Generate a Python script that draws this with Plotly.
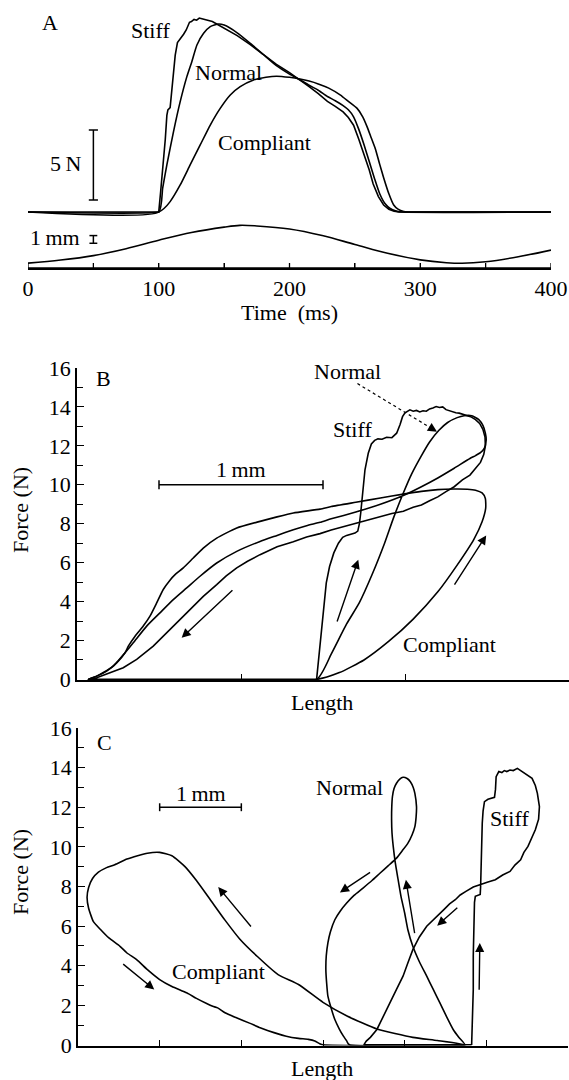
import plotly.graph_objects as go

W, H = 569, 1080
FONT = "Liberation Serif, Times New Roman, serif"

# ---------------- Panel A: force and length against time ----------------
t_stiff = [0, 100, 101.5, 103, 104, 105, 106.2, 107, 108.7, 110, 111.3, 112.6, 114.3, 115.5,
           117.2, 119, 121, 122.5, 123.5, 125, 127, 129, 131, 133, 135, 137, 139, 141, 144,
           150, 160, 170, 180, 190, 200, 208, 215, 222, 229, 235, 241, 245, 249, 253, 257,
           261, 264, 268, 272, 276, 280, 284, 400]
f_stiff = [0, 0, 1.5, 2.9, 4.1, 5.2, 6.9, 7.3, 7.45, 8.8, 10.0, 11.2, 12.1, 12.25,
           12.4, 12.7, 13.0, 13.35, 13.55, 13.6, 13.75, 13.7, 13.85, 13.8, 13.75, 13.72, 13.65, 13.6, 13.45,
           13.15, 12.6, 11.95, 11.25, 10.55, 9.95, 9.45, 8.95, 8.45, 7.9, 7.55, 7.15, 6.75, 6.2, 5.2, 4.1,
           3.0, 2.0, 1.1, 0.5, 0.2, 0.05, 0, 0]

t_normal = [0, 100, 103, 106.2, 111.3, 116.4, 121.5, 125.3, 129.2, 134.3, 139.4, 145.7, 150, 160,
            170, 180, 190, 200, 208, 215, 222, 229, 235, 241, 245, 249, 253, 257, 261, 265, 269,
            273, 277, 281, 286, 400]
f_normal = [0, 0, 1.7, 3.36, 5.74, 7.88, 9.67, 10.74, 11.93, 12.76, 13.24, 13.43, 13.35, 12.8,
            12.05, 11.25, 10.45, 9.85, 9.45, 9.05, 8.7, 8.25, 7.95, 7.6, 7.3, 6.8, 5.9, 4.8, 3.6, 2.4, 1.3,
            0.6, 0.25, 0.08, 0, 0]

t_compliant = [0, 100, 104, 108.7, 116.4, 124, 131.7, 139.4, 147, 154.7, 162.3, 172.5, 182, 190,
               200, 208, 215, 222, 230, 239, 245, 251.7, 256, 259.3, 262.5, 265.7, 269, 272, 276,
               279.7, 283, 287.4, 291, 400]
f_compliant = [0, 0, 0.25, 0.74, 1.93, 3.36, 4.79, 6.21, 7.4, 8.36, 8.95, 9.43, 9.62, 9.7,
               9.62, 9.5, 9.35, 9.15, 8.85, 8.35, 7.9, 7.4, 6.8, 6.1, 5.3, 4.5, 3.4, 2.45, 1.3,
               0.5, 0.2, 0.03, 0, 0]

t_length = [0, 25, 50, 75, 100, 125, 150, 162, 175, 200, 225, 250, 275, 300, 320, 332, 350, 375, 400]
length_mm = [0.02, 0.42, 1.0, 1.9, 3.0, 4.0, 4.7, 4.93, 4.85, 4.45, 3.6, 2.45, 1.3, 0.45, 0.08, 0.0,
             0.2, 0.85, 1.72]

time_ticks = [0, 50, 100, 150, 200, 250, 300, 350, 400]
time_ticktext = ["0", "", "100", "", "200", "", "300", "", "400"]

# ---------------- Panel B: work loops (force vs length) ----------------
b_stiff_len = [1.461, 1.482, 1.50, 1.52, 1.54, 1.566, 1.594, 1.62, 1.644, 1.67, 1.695, 1.712, 1.722,
               1.730, 1.742, 1.756, 1.776, 1.795, 1.815, 1.835, 1.86, 1.888, 1.92, 1.949, 1.97, 1.985,
               2.0, 2.03, 2.05, 2.07, 2.09, 2.11, 2.13, 2.15, 2.17, 2.19, 2.21, 2.23, 2.25, 2.27, 2.29,
               2.31, 2.33, 2.35, 2.37, 2.40, 2.43, 2.455, 2.475, 2.488, 2.49, 2.48, 2.46, 2.43, 2.396,
               2.35, 2.30, 2.25, 2.2, 2.15, 2.1, 2.05, 1.99, 1.92, 1.85, 1.78, 1.70, 1.62, 1.55, 1.482,
               1.40, 1.319, 1.22, 1.116, 1.04, 0.974, 0.91, 0.852, 0.770, 0.669, 0.567, 0.465, 0.364,
               0.282, 0.201, 0.120, 0.069, 1.461]
b_stiff_force = [0, 1.71, 3.2, 4.96, 5.8, 6.5, 7.0, 7.3, 7.4, 7.48, 7.52, 7.62, 8.0,
                 8.55, 9.74, 10.77, 11.62, 12.1, 12.28, 12.36, 12.34, 12.44, 12.42, 12.65, 13.1, 13.5,
                 13.7, 13.85, 13.78, 13.82, 13.74, 13.8, 13.78, 13.9, 13.95, 14.02, 13.97, 14.0, 13.86, 13.8, 13.72,
                 13.7, 13.68, 13.62, 13.6, 13.5, 13.35, 13.15, 12.85, 12.45, 12.0, 11.55, 11.15, 10.85, 10.5,
                 10.25, 9.9, 9.65, 9.38, 9.18, 8.96, 8.85, 8.64, 8.52, 8.36, 8.24, 8.03, 7.87, 7.68, 7.49,
                 7.32, 7.07, 6.82, 6.41, 6.07, 5.73, 5.32, 4.87, 4.27, 3.42, 2.56, 1.71, 1.03,
                 0.60, 0.34, 0.09, 0, 0]

b_normal_len = [1.461, 1.55, 1.644, 1.721, 1.80, 1.876, 1.93, 1.986, 2.04, 2.097, 2.15, 2.207, 2.26,
                2.318, 2.36, 2.407, 2.45, 2.475, 2.49, 2.495, 2.485, 2.46, 2.43, 2.396, 2.30, 2.2, 2.1,
                1.99, 1.85, 1.70, 1.55, 1.482, 1.40, 1.319, 1.22, 1.116, 0.974, 0.852, 0.750, 0.669,
                0.587, 0.506, 0.425, 0.343, 0.293, 0.25, 0.221, 0.18, 0.140, 0.10, 0.069, 1.461]
b_normal_force = [0, 1.3, 2.85, 3.93, 5.4, 7.01, 8.3, 9.5, 10.55, 11.45, 12.2, 12.8, 13.2,
                  13.45, 13.55, 13.55, 13.35, 13.05, 12.65, 12.3, 11.9, 11.65, 11.5, 11.35, 10.85, 10.35, 9.9,
                  9.45, 9.0, 8.6, 8.25, 8.07, 7.9, 7.69, 7.4, 7.09, 6.58, 5.98, 5.3, 4.70,
                  4.10, 3.42, 2.74, 1.88, 1.37, 0.95, 0.68, 0.45, 0.26, 0.1, 0, 0]

b_compliant_len = [1.461, 1.6, 1.75, 1.9, 2.05, 2.2, 2.32, 2.42, 2.47, 2.492, 2.49, 2.47, 2.43, 2.38,
                   2.3, 2.2, 2.1, 1.99, 1.85, 1.70, 1.55, 1.482, 1.319, 1.22, 1.116, 0.974, 0.852,
                   0.770, 0.709, 0.648, 0.598, 0.567, 0.526, 0.486, 0.445, 0.404, 0.354, 0.313, 0.293,
                   0.242, 0.181, 0.120, 0.069, 1.461]
b_compliant_force = [0, 0.35, 1.0, 1.95, 3.1, 4.5, 5.9, 7.2, 8.1, 8.8, 9.3, 9.58, 9.72, 9.77,
                     9.78, 9.75, 9.66, 9.52, 9.32, 9.1, 8.88, 8.75, 8.55, 8.35, 8.12, 7.78, 7.26,
                     6.75, 6.24, 5.73, 5.38, 5.1, 4.62, 3.93, 3.25, 2.74, 2.22, 1.71, 1.37,
                     0.85, 0.43, 0.17, 0, 0]

# ---------------- Panel C: loops on a shifted length scale ----------------
c_compliant_len = [4.75, 4.4, 4.1, 3.66, 3.3, 3.0, 2.7, 2.45, 2.2, 1.98, 1.8, 1.62, 1.45, 1.31, 1.15,
                   1.0, 0.85, 0.73, 0.6, 0.45, 0.35, 0.25, 0.178, 0.13, 0.111, 0.13, 0.187, 0.27,
                   0.378, 0.514, 0.6, 0.718, 0.85, 1.0, 1.15, 1.33, 1.45, 1.575, 1.65, 1.71, 1.80,
                   1.94, 2.1, 2.23, 2.4, 2.55, 2.7, 2.82, 2.9, 2.96, 3.0, 4.75]
c_compliant_force = [0, 0.22, 0.38, 0.8, 1.45, 2.15, 3.05, 3.55, 4.45, 5.35, 6.3, 7.33, 8.3, 9.0, 9.55,
                     9.72, 9.68, 9.55, 9.38, 9.1, 8.95, 8.72, 8.4, 7.95, 7.45, 6.9, 6.24, 5.85,
                     5.4, 4.98, 4.64, 4.31, 3.8, 3.3, 2.95, 2.63, 2.35, 2.09, 1.95, 1.87, 1.62,
                     1.37, 1.1, 0.87, 0.62, 0.44, 0.33, 0.28, 0.2, 0.06, 0, 0]

c_normal_len = [4.737, 4.66, 4.594, 4.51, 4.43, 4.35, 4.27, 4.18, 4.10, 4.04, 4.0, 3.955, 3.92, 3.885,
                3.86, 3.845, 3.84, 3.842, 3.85, 3.87, 3.90, 3.94, 3.98, 4.03, 4.07, 4.105, 4.125,
                4.145, 4.14, 4.125, 4.09, 4.04, 3.97, 3.90, 3.80, 3.70, 3.60, 3.49, 3.38, 3.29, 3.21,
                3.145, 3.09, 3.06, 3.04, 3.035, 3.045, 3.06, 3.10, 3.145, 3.20, 3.25, 3.29, 3.31,
                3.33, 4.737]
c_normal_force = [0.0, 0.4, 0.78, 1.45, 2.13, 2.8, 3.47, 4.2, 4.98, 5.8, 6.66, 7.5, 8.34, 9.2,
                  10.02, 10.7, 11.36, 12.0, 12.53, 12.95, 13.21, 13.42, 13.51, 13.45, 13.29, 13.0, 12.7,
                  12.03, 11.5, 11.02, 10.6, 10.19, 9.8, 9.43, 9.05, 8.68, 8.3, 7.92, 7.55, 7.16, 6.75,
                  6.32, 5.7, 5.15, 4.5, 3.80, 3.1, 2.46, 1.85, 1.28, 0.8, 0.44, 0.2, 0.05,
                  0, 0]

c_stiff_len = [4.82, 4.83, 4.84, 4.84, 4.845, 4.855, 4.865, 4.90, 4.925, 4.93, 4.935, 4.94, 4.945,
               4.95, 4.96, 4.977, 5.02, 5.066, 5.10, 5.112, 5.12, 5.153, 5.19, 5.22, 5.25, 5.29, 5.33,
               5.38, 5.42, 5.47, 5.52, 5.56, 5.60, 5.625, 5.65, 5.64, 5.6, 5.55, 5.51, 5.46, 5.42,
               5.35, 5.29, 5.2, 5.11, 5.02, 4.93, 4.84, 4.75, 4.68, 4.62, 4.55, 4.48, 4.38, 4.27,
               4.18, 4.10, 4.04, 3.98, 3.90, 3.82, 3.74, 3.66, 3.58, 3.53, 3.5, 4.82]
c_stiff_force = [0, 1.2, 2.8, 4.5, 6.16, 7.2, 7.5, 7.55, 7.6, 8.0, 9.0, 9.51, 10.4,
                 11.19, 11.8, 12.28, 12.4, 12.45, 12.5, 12.9, 13.54, 13.8, 13.75, 13.85, 13.8, 13.88, 13.85,
                 13.96, 13.85, 13.71, 13.6, 13.46, 13.1, 12.7, 12.03, 11.4, 10.86, 10.4, 10.02, 9.72, 9.35,
                 9.08, 8.76, 8.58, 8.34, 8.22, 8.09, 7.97, 7.75, 7.57, 7.33, 7.12, 6.83, 6.45, 5.99,
                 5.45, 4.81, 4.15, 3.47, 2.8, 2.13, 1.45, 0.78, 0.38, 0.19, 0, 0]

force_ticks = list(range(0, 17, 2))
force_minor = list(range(1, 16, 2))

A_AXIS_PY = 268      # pixel row of panel A's time axis


def xdom(left, right):
    return [left / W, right / W]


def ydom(top, bottom):
    return [1 - bottom / H, 1 - top / H]


def paper_xy(px, py):
    return px / W, 1 - py / H


LINE = dict(color="black", width=1.6)
fig = go.Figure()

# Panel A traces: force on y, length on its own strip (y2) sharing the time axis
fig.add_trace(go.Scatter(x=t_stiff, y=f_stiff, mode="lines", line=LINE, xaxis="x", yaxis="y"))
fig.add_trace(go.Scatter(x=t_normal, y=f_normal, mode="lines", line=dict(LINE, shape="spline", smoothing=0.5),
                         xaxis="x", yaxis="y"))
fig.add_trace(go.Scatter(x=t_compliant, y=f_compliant, mode="lines",
                         line=dict(LINE, shape="spline", smoothing=0.5), xaxis="x", yaxis="y"))
fig.add_trace(go.Scatter(x=t_length, y=length_mm, mode="lines", line=dict(LINE, shape="spline", smoothing=1.0),
                         xaxis="x", yaxis="y2"))

# Panel B traces
fig.add_trace(go.Scatter(x=b_stiff_len, y=b_stiff_force, mode="lines", line=LINE, xaxis="x2", yaxis="y3"))
fig.add_trace(go.Scatter(x=b_normal_len, y=b_normal_force, mode="lines",
                         line=dict(LINE, shape="spline", smoothing=0.5), xaxis="x2", yaxis="y3"))
fig.add_trace(go.Scatter(x=b_compliant_len, y=b_compliant_force, mode="lines",
                         line=dict(LINE, shape="spline", smoothing=0.5), xaxis="x2", yaxis="y3"))
# dotted pointer from the "Normal" label
fig.add_trace(go.Scatter(x=[1.71, 2.175], y=[15.2, 12.83], mode="lines",
                         line=dict(color="black", width=1.2, dash="dot"), xaxis="x2", yaxis="y3"))

# Panel C traces
fig.add_trace(go.Scatter(x=c_compliant_len, y=c_compliant_force, mode="lines",
                         line=dict(LINE, shape="spline", smoothing=0.5), xaxis="x3", yaxis="y4"))
fig.add_trace(go.Scatter(x=c_normal_len, y=c_normal_force, mode="lines",
                         line=dict(LINE, shape="spline", smoothing=0.5), xaxis="x3", yaxis="y4"))
fig.add_trace(go.Scatter(x=c_stiff_len, y=c_stiff_force, mode="lines", line=LINE, xaxis="x3", yaxis="y4"))

# ---------------- scale bars and panel A's time-axis rule ----------------
shapes = []
BLACK = dict(color="black", width=1.5)


def vbar(xref, yref, x, y0, y1, cap):
    shapes.append(dict(type="line", xref=xref, yref=yref, x0=x, x1=x, y0=y0, y1=y1, line=BLACK))
    for yy in (y0, y1):
        shapes.append(dict(type="line", xref=xref, yref=yref, x0=x - cap, x1=x + cap, y0=yy, y1=yy, line=BLACK))


def hbar(xref, yref, y, x0, x1, cap):
    shapes.append(dict(type="line", xref=xref, yref=yref, x0=x0, x1=x1, y0=y, y1=y, line=BLACK))
    for xx in (x0, x1):
        shapes.append(dict(type="line", xref=xref, yref=yref, x0=xx, x1=xx, y0=y - cap, y1=y + cap, line=BLACK))


vbar("x", "y", 50, 0.857, 5.857, 3.5)      # 5 N
vbar("x", "y2", 50, 2.6, 3.6, 3.0)         # 1 mm
hbar("x2", "y3", 10.0, 0.5, 1.5, 0.23)     # 1 mm
hbar("x3", "y4", 12.0, 1.0, 2.0, 0.2)      # 1 mm

axis_y = 1 - A_AXIS_PY / H
tick_top = 1 - (A_AXIS_PY - 5) / H
shapes.append(dict(type="line", xref="x", yref="paper", x0=time_ticks[0], x1=time_ticks[-1],
                   y0=axis_y, y1=axis_y, line=BLACK))
for tv in time_ticks:
    shapes.append(dict(type="line", xref="x", yref="paper", x0=tv, x1=tv, y0=axis_y, y1=tick_top,
                       line=dict(color="black", width=1.3)))

# ---------------- text ----------------
TXT = dict(showarrow=False, xanchor="center", yanchor="middle",
           font=dict(family=FONT, size=22, color="black"))
annotations = []


def label(text, x, y, xref, yref, **kw):
    annotations.append(dict(TXT, text=text, x=x, y=y, xref=xref, yref=yref, **kw))


def plabel(text, px, py, **kw):
    x, y = paper_xy(px, py)
    annotations.append(dict(TXT, text=text, x=x, y=y, xref="paper", yref="paper", **kw))


def arrow(xref, yref, tail, head):
    annotations.append(dict(text="", showarrow=True, x=head[0], y=head[1], ax=tail[0], ay=tail[1],
                            xref=xref, yref=yref, axref=xref, ayref=yref, arrowhead=2,
                            arrowsize=1.3, arrowwidth=1.4, arrowcolor="black", standoff=0))


# panel letters
plabel("A", 50, 23)
plabel("B", 103, 378)
plabel("C", 104, 742)

# panel A labels
label("Stiff", 93.4, 13.0, "x", "y")
label("Normal", 153, 10.0, "x", "y")
label("Compliant", 180.7, 5.0, "x", "y")
label("5\u2009N", 28.3, 3.5, "x", "y")
label("1\u2009mm", 20.5, 3.4, "x", "y2")
plabel("Time\u2002(ms)", 289.5, 313)

# panel B labels
label("Normal", 1.652, 15.8, "x2", "y3")
label("Stiff", 1.677, 12.82, "x2", "y3")
label("1\u2009mm", 1.0, 10.77, "x2", "y3")
label("Compliant", 2.274, 1.8, "x2", "y3")
plabel("Force (N)", 20, 510, textangle=-90)
plabel("Length", 322, 702)

arrow("x2", "y3", (0.957, 4.65), (0.638, 2.14))
arrow("x2", "y3", (1.583, 2.9), (1.715, 6.15))
arrow("x2", "y3", (2.296, 4.79), (2.495, 7.4))
arrow("x2", "y3", (2.143, 13.0), (2.195, 12.73))

# panel C labels
label("Normal", 3.32, 13.0, "x3", "y4")
label("Stiff", 5.28, 11.45, "x3", "y4")
label("Compliant", 1.717, 3.72, "x3", "y4")
label("1\u2009mm", 1.5, 12.7, "x3", "y4")
plabel("Force (N)", 20, 872, textangle=-90)
plabel("Length", 322, 1068)

arrow("x3", "y4", (2.133, 5.9), (1.717, 7.97))
arrow("x3", "y4", (0.535, 4.14), (0.934, 2.8))
arrow("x3", "y4", (3.595, 8.76), (3.207, 7.7))
arrow("x3", "y4", (4.125, 5.57), (4.015, 8.34))
arrow("x3", "y4", (4.663, 6.99), (4.398, 6.02))
arrow("x3", "y4", (4.912, 2.71), (4.92, 5.15))

# ---------------- axes ----------------
AX = dict(showline=True, linecolor="black", linewidth=1.5, showgrid=False, zeroline=False,
          automargin=False, ticks="inside", tickcolor="black", tickwidth=1.3,
          tickfont=dict(family=FONT, size=22, color="black"))

# panel A's value axes carry no drawn line, ticks or labels
HIDDEN_Y = dict(showline=False, showgrid=False, zeroline=False, ticks="", showticklabels=False,
                automargin=False)

force_axis = dict(AX, range=[-0.03, 16], tickvals=force_ticks, ticklen=7,
                  minor=dict(tickvals=force_minor, ticks="inside", ticklen=6, tickcolor="black", tickwidth=1.3))

fig.update_layout(
    template="none",
    width=W, height=H, margin=dict(l=0, r=0, t=0, b=0, pad=0),
    paper_bgcolor="white", plot_bgcolor="rgba(0,0,0,0)", showlegend=False,
    font=dict(family=FONT, size=22, color="black"),
    xaxis=dict(AX, domain=xdom(28, 551), range=[0, 400], anchor="y2",
               ticklen=5, tickvals=time_ticks, ticktext=time_ticktext),
    yaxis=dict(HIDDEN_Y, domain=ydom(0, A_AXIS_PY), range=[-4.0, 15.143], anchor="x"),
    yaxis2=dict(HIDDEN_Y, domain=ydom(215, A_AXIS_PY), range=[-0.61, 6.273], anchor="x"),
    xaxis2=dict(AX, domain=xdom(77, 569), range=[0, 3], anchor="y3", ticklen=6,
                tickvals=[1, 2, 3], showticklabels=False),
    yaxis3=dict(force_axis, domain=ydom(368, 680), anchor="x2"),
    xaxis3=dict(AX, domain=xdom(78, 568), range=[0, 6], anchor="y4", ticklen=6,
                tickvals=[1, 2, 3, 4, 5, 6], showticklabels=False),
    yaxis4=dict(force_axis, domain=ydom(728, 1045.5), anchor="x3"),
    shapes=shapes, annotations=annotations,
)

fig.write_html("out.html")
